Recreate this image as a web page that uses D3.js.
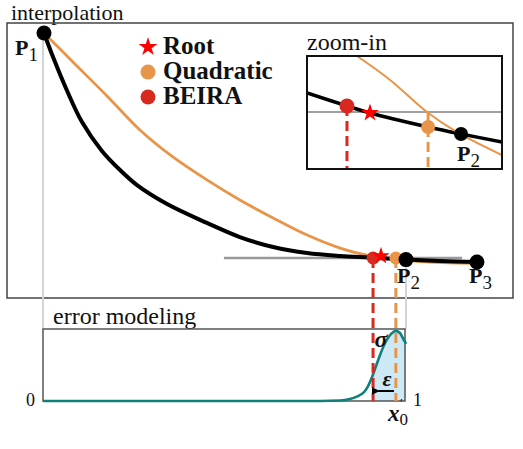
<!DOCTYPE html>
<html>
<head>
<meta charset="utf-8">
<script src="https://cdn.jsdelivr.net/npm/d3@7"></script>
<style>
body { margin: 0; background: #fff; }
svg { display: block; }
</style>
</head>
<body>
<svg width="523" height="449"></svg>
<script>
// main panel units: x = 0 at P1 and 1 at P2, y = 1 at P1 and 0 at the root level
const exactCurve = [[0, 1], [.025, .893], [.064, .742], [.105, .604], [.16, .476], [.21, .391],
    [.257, .324], [.34, .24], [.45, .156], [.541, .093], [.633, .049], [.727, .022], [.818, .009],
    [.901, .002], [1, -.007], [1.094, -.013], [1.196, -.018]];
const quadCurve = [[0, 1], [.08, .871], [.174, .72], [.265, .569], [.356, .449], [.45, .347],
    [.541, .258], [.633, .178], [.727, .102], [.818, .044], [.901, .009], [.972, -.004],
    [1.039, -.016], [1.196, -.024]];
const ctrlPoints = [[0, 1], [1, -.007], [1.196, -.018]];
const ctrlNames = ["1", "2", "3"];
const rootLevel = [.497, 1.155];
const rootX = .931, quadX = .972, beiraX = .909;

// zoom-in panel units: 0..1 across the inset box
const zoomExact = [[0, .673], [.205, .558], [.323, .496], [.621, .372], [.79, .31], [1, .239]];
const zoomQuad = [[.256, 1], [.426, .788], [.615, .504], [.769, .327], [1, .124]];
const zoomLevel = .504;
const zoomBeira = [.205, .558], zoomRoot = [.323, .496], zoomQuadPt = [.621, .372], zoomP2 = [.79, .31];

// error modeling panel: x from 0 to 1, density from 0 to its peak
const errCurve = [[0, 0], [.71, 0], [.82, .007], [.848, .028], [.87, .069], [.887, .125], [.898, .208],
    [.909, .333], [.92, .486], [.931, .639], [.945, .806], [.959, .917], [.975, .972], [.986, .944],
    [.994, .875], [1.003, .792]];
const errTicks = [0, 1];
const errBeira = .912, errQuad = .975;

const legendNames = ["Root", "Quadratic", "BEIRA"];

const orange = "#e8954a", red = "#d8291f", teal = "#11807c";
const serif = "'Liberation Serif', 'DejaVu Serif', 'Times New Roman', serif";

const svg = d3.select("svg").style("font-family", serif);

var x = d3.scaleLinear().domain([0, 1]).range([44, 406]);
var y = d3.scaleLinear().domain([0, 1]).range([258, 33]);
var zx = d3.scaleLinear().domain([0, 1]).range([307, 502]);
var zy = d3.scaleLinear().domain([0, 1]).range([169, 56]);
var ex = d3.scaleLinear().domain([0, 1]).range([43, 405]);
var ey = d3.scaleLinear().domain([0, 1]).range([401, 329]);

var line = d3.line().x(d => x(d[0])).y(d => y(d[1])).curve(d3.curveCatmullRom.alpha(0.5));
var zline = d3.line().x(d => zx(d[0])).y(d => zy(d[1])).curve(d3.curveCatmullRom.alpha(0.5));
var eline = d3.line().x(d => ex(d[0])).y(d => ey(d[1])).curve(d3.curveMonotoneX);

function txt(xp, yp, size) {
    return svg.append("text").attr("x", xp).attr("y", yp)
        .style("font-family", serif).style("font-size", size + "px").attr("fill", "#111");
}

// panel titles and frames
txt(11, 20, 22).text("interpolation");
svg.append("rect").attr("x", 7).attr("y", 23).attr("width", 506).attr("height", 275)
    .attr("fill", "none").attr("stroke", "#444").attr("stroke-width", 1.5);

// light guide lines down from P1 and P2
svg.append("line").attr("x1", x(0) - 1).attr("x2", x(0) - 1).attr("y1", y(1)).attr("y2", ey(1))
    .attr("stroke", "#d4d4d4").attr("stroke-width", 2);
svg.append("line").attr("x1", x(1)).attr("x2", x(1)).attr("y1", y(ctrlPoints[1][1])).attr("y2", ey(1))
    .attr("stroke", "#d4d4d4").attr("stroke-width", 2);

// root level
svg.append("line").attr("x1", x(rootLevel[0])).attr("x2", x(rootLevel[1])).attr("y1", y(0)).attr("y2", y(0))
    .attr("stroke", "#9a9a9a").attr("stroke-width", 2.5);

svg.append("path").attr("d", line(quadCurve)).attr("fill", "none").attr("stroke", orange).attr("stroke-width", 2.8);
svg.append("path").attr("d", line(exactCurve)).attr("fill", "none").attr("stroke", "#000").attr("stroke-width", 4);

// error modeling panel
txt(53, 324, 24).text("error modeling");
var area = d3.area().x(d => ex(d[0])).y0(ey(0)).y1(d => ey(d[1])).curve(d3.curveMonotoneX);
svg.append("clipPath").attr("id", "errclip").append("rect")
    .attr("x", ex(errBeira)).attr("y", ey(1)).attr("width", ex(1) - ex(errBeira)).attr("height", ey(0) - ey(1));
svg.append("path").attr("d", area(errCurve)).attr("clip-path", "url(#errclip)").attr("fill", "#cde9f5");
svg.append("rect").attr("x", ex(0)).attr("y", ey(1)).attr("width", ex(1) - ex(0)).attr("height", ey(0) - ey(1))
    .attr("fill", "none").attr("stroke", "#555").attr("stroke-width", 1.5);
svg.append("path").attr("d", eline(errCurve)).attr("fill", "none").attr("stroke", teal).attr("stroke-width", 2.6);

errTicks.forEach(function (d) {
    txt(d == 0 ? ex(d) - 8 : ex(d) + 8, ey(0) + 5, 18)
        .attr("text-anchor", d == 0 ? "end" : "start").text(d);
});

// dashed drop lines from the two estimates
svg.append("line").attr("x1", x(beiraX)).attr("x2", x(beiraX)).attr("y1", y(0)).attr("y2", ey(0))
    .attr("stroke", red).attr("stroke-width", 3).attr("stroke-dasharray", "10,5");
svg.append("line").attr("x1", x(quadX)).attr("x2", x(quadX)).attr("y1", y(0)).attr("y2", ey(0))
    .attr("stroke", orange).attr("stroke-width", 3).attr("stroke-dasharray", "10,5");

// epsilon arrow
svg.append("defs").append("marker").attr("id", "arrow").attr("viewBox", "0 0 10 10")
    .attr("refX", 2).attr("refY", 5).attr("markerWidth", 4).attr("markerHeight", 4).attr("orient", "auto")
    .append("path").attr("d", "M10,0 L0,5 L10,10 z").attr("fill", "#000");
svg.append("line").attr("x1", ex(errQuad) - 2).attr("x2", ex(errBeira) + 5).attr("y1", 391).attr("y2", 391)
    .attr("stroke", "#000").attr("stroke-width", 2).attr("marker-end", "url(#arrow)");
txt(387, 386, 22).attr("text-anchor", "middle").style("font-style", "italic").style("font-weight", "bold").text("ε");
txt(381, 347, 24).attr("text-anchor", "middle").style("font-style", "italic").style("font-weight", "bold").text("σ");
var x0 = txt(388, 421, 23);
x0.append("tspan").style("font-style", "italic").style("font-weight", "bold").text("x");
x0.append("tspan").attr("dy", 4).style("font-size", "17px").text("0");
x0.append("tspan").attr("dx", -8).attr("dy", -18).style("font-size", "13px").text("′");

// markers on the main curve
svg.append("circle").attr("cx", x(beiraX)).attr("cy", y(0)).attr("r", 6.5).attr("fill", red);
svg.append("path").attr("d", d3.symbol(d3.symbolStar).size(95)())
    .attr("transform", "translate(" + x(rootX) + "," + (y(0) - 2) + ")").attr("fill", "#ff0000");
svg.append("circle").attr("cx", x(quadX)).attr("cy", y(0)).attr("r", 6.5).attr("fill", orange);

svg.selectAll(".ctrl").data(ctrlPoints).enter().append("circle")
    .attr("cx", d => x(d[0])).attr("cy", d => y(d[1])).attr("r", 7.5).attr("fill", "#000");

var labelPos = [[15, 55], [397, 283], [469, 283]];
ctrlNames.forEach(function (n, i) {
    var t = txt(labelPos[i][0], labelPos[i][1], 22);
    t.append("tspan").style("font-weight", "bold").text("P");
    t.append("tspan").attr("dy", 6).style("font-size", "19px").text(n);
});

// legend
var legend = svg.append("g").attr("transform", "translate(148,47)");
legend.append("path").attr("d", d3.symbol(d3.symbolStar).size(110)()).attr("fill", "#ff0000");
legend.append("circle").attr("cy", 25).attr("r", 7.5).attr("fill", orange);
legend.append("circle").attr("cy", 50).attr("r", 7.5).attr("fill", red);
legendNames.forEach(function (d, i) {
    txt(163, 54 + i * 25, 25).style("font-weight", "bold").text(d);
});

// zoom-in inset
txt(307, 50, 24).text("zoom-in");
svg.append("rect").attr("x", zx(0)).attr("y", zy(1)).attr("width", zx(1) - zx(0)).attr("height", zy(0) - zy(1))
    .attr("fill", "#fff").attr("stroke", "none");
svg.append("clipPath").attr("id", "zclip").append("rect")
    .attr("x", zx(0)).attr("y", zy(1)).attr("width", zx(1) - zx(0)).attr("height", zy(0) - zy(1));
var inset = svg.append("g").attr("clip-path", "url(#zclip)");
inset.append("line").attr("x1", zx(0)).attr("x2", zx(1)).attr("y1", zy(zoomLevel)).attr("y2", zy(zoomLevel))
    .attr("stroke", "#a0a0a0").attr("stroke-width", 2);
inset.append("path").attr("d", zline(zoomExact)).attr("fill", "none").attr("stroke", "#000").attr("stroke-width", 3.5);
inset.append("path").attr("d", zline(zoomQuad)).attr("fill", "none").attr("stroke", orange).attr("stroke-width", 2);
inset.append("line").attr("x1", zx(zoomBeira[0])).attr("x2", zx(zoomBeira[0])).attr("y1", zy(zoomBeira[1])).attr("y2", zy(0))
    .attr("stroke", red).attr("stroke-width", 3).attr("stroke-dasharray", "10,5");
inset.append("line").attr("x1", zx(zoomQuadPt[0])).attr("x2", zx(zoomQuadPt[0])).attr("y1", zy(zoomLevel)).attr("y2", zy(0))
    .attr("stroke", orange).attr("stroke-width", 3).attr("stroke-dasharray", "10,5");
inset.append("circle").attr("cx", zx(zoomBeira[0])).attr("cy", zy(zoomBeira[1])).attr("r", 7.5).attr("fill", red);
inset.append("path").attr("d", d3.symbol(d3.symbolStar).size(100)())
    .attr("transform", "translate(" + zx(zoomRoot[0]) + "," + zy(zoomRoot[1]) + ")").attr("fill", "#ff0000");
inset.append("circle").attr("cx", zx(zoomQuadPt[0])).attr("cy", zy(zoomQuadPt[1])).attr("r", 7).attr("fill", orange);
inset.append("circle").attr("cx", zx(zoomP2[0])).attr("cy", zy(zoomP2[1])).attr("r", 7).attr("fill", "#000");
var zl = txt(457, 161, 22);
zl.append("tspan").style("font-weight", "bold").text("P");
zl.append("tspan").attr("dy", 6).style("font-size", "19px").text("2");
svg.append("rect").attr("x", zx(0)).attr("y", zy(1)).attr("width", zx(1) - zx(0)).attr("height", zy(0) - zy(1))
    .attr("fill", "none").attr("stroke", "#111").attr("stroke-width", 2);
</script>
</body>
</html>
